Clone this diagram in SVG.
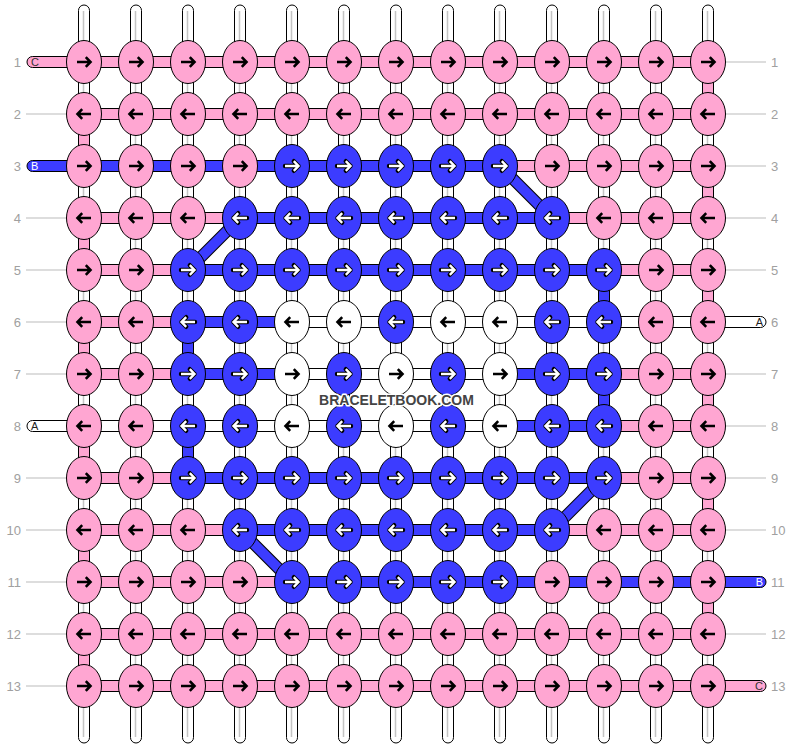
<svg xmlns="http://www.w3.org/2000/svg" width="792" height="748" viewBox="0 0 792 748">
<style>
.P{fill:#ffa6d2}.B{fill:#3c3cff}.W{fill:#fff}
ellipse{stroke:#000;stroke-width:1}
.s{stroke:#000;stroke-width:1}
.gr{stroke:#c4c4c4;stroke-width:1.5}
.ar{fill:none;stroke:#000;stroke-width:2.6}
.aro{fill:none;stroke:#000;stroke-width:4.4;stroke-linecap:round;stroke-linejoin:round}
.arw{fill:none;stroke:#fff;stroke-width:2.4}
.num{font-family:"Liberation Sans",Arial,sans-serif;font-size:13px;fill:#a0a0a0}
.gl{stroke:#bbb;stroke-width:1}
.lbl{font-family:"Liberation Sans",Arial,sans-serif;font-size:11px}
.wm{font-family:"Liberation Sans",Arial,sans-serif;font-size:14px;font-weight:bold;fill:#444;stroke:#fff;stroke-width:3;paint-order:stroke;stroke-linejoin:round}
</style>
<defs>
<path id="pR" d="M-7,0H6.5M1.8,-4.8L6.5,0L1.8,4.8"/>
<path id="pL" d="M7,0H-6.5M-1.8,-4.8L-6.5,0L-1.8,4.8"/>
<g id="R"><use href="#pR" class="ar"/></g>
<g id="L"><use href="#pL" class="ar"/></g>
<g id="RW"><use href="#pR" class="aro"/><use href="#pR" class="arw"/></g>
<g id="LW"><use href="#pL" class="aro"/><use href="#pL" class="arw"/></g>
</defs>
<rect width="792" height="748" fill="#fff"/>
<g id="labels">
<g class="num" text-anchor="end">
<text x="21" y="66.5">1</text><text x="21" y="118.5">2</text><text x="21" y="170.5">3</text><text x="21" y="222.5">4</text><text x="21" y="274.5">5</text><text x="21" y="326.5">6</text><text x="21" y="378.5">7</text><text x="21" y="430.5">8</text><text x="21" y="482.5">9</text><text x="21" y="534.5">10</text><text x="21" y="586.5">11</text><text x="21" y="638.5">12</text><text x="21" y="690.5">13</text>
</g>
<g class="num">
<text x="771" y="66.5">1</text><text x="771" y="118.5">2</text><text x="771" y="170.5">3</text><text x="771" y="222.5">4</text><text x="771" y="274.5">5</text><text x="771" y="326.5">6</text><text x="771" y="378.5">7</text><text x="771" y="430.5">8</text><text x="771" y="482.5">9</text><text x="771" y="534.5">10</text><text x="771" y="586.5">11</text><text x="771" y="638.5">12</text><text x="771" y="690.5">13</text>
</g>
<g class="gl">
<line x1="26" y1="114" x2="70" y2="114"/><line x1="26" y1="218" x2="70" y2="218"/><line x1="26" y1="270" x2="70" y2="270"/><line x1="26" y1="322" x2="70" y2="322"/><line x1="26" y1="374" x2="70" y2="374"/><line x1="26" y1="478" x2="70" y2="478"/><line x1="26" y1="530" x2="70" y2="530"/><line x1="26" y1="582" x2="70" y2="582"/><line x1="26" y1="634" x2="70" y2="634"/><line x1="26" y1="686" x2="70" y2="686"/>
<line x1="722" y1="62" x2="766" y2="62"/><line x1="722" y1="114" x2="766" y2="114"/><line x1="722" y1="166" x2="766" y2="166"/><line x1="722" y1="218" x2="766" y2="218"/><line x1="722" y1="270" x2="766" y2="270"/><line x1="722" y1="374" x2="766" y2="374"/><line x1="722" y1="426" x2="766" y2="426"/><line x1="722" y1="478" x2="766" y2="478"/><line x1="722" y1="530" x2="766" y2="530"/><line x1="722" y1="634" x2="766" y2="634"/>
</g>
</g>
<g id="connectors">
<g id="vertical" class="s">
<rect class="W" x="78.5" y="5" width="11" height="738" rx="5.5"/>
<rect class="W" x="130.5" y="5" width="11" height="738" rx="5.5"/>
<rect class="W" x="182.5" y="5" width="11" height="738" rx="5.5"/>
<rect class="W" x="234.5" y="5" width="11" height="738" rx="5.5"/>
<rect class="W" x="286.5" y="5" width="11" height="738" rx="5.5"/>
<rect class="W" x="338.5" y="5" width="11" height="738" rx="5.5"/>
<rect class="W" x="390.5" y="5" width="11" height="738" rx="5.5"/>
<rect class="W" x="442.5" y="5" width="11" height="738" rx="5.5"/>
<rect class="W" x="494.5" y="5" width="11" height="738" rx="5.5"/>
<rect class="W" x="546.5" y="5" width="11" height="738" rx="5.5"/>
<rect class="W" x="598.5" y="5" width="11" height="738" rx="5.5"/>
<rect class="W" x="650.5" y="5" width="11" height="738" rx="5.5"/>
<rect class="W" x="702.5" y="5" width="11" height="738" rx="5.5"/>
</g>
<g class="gr">
<line x1="83.5" y1="11" x2="83.5" y2="737"/><line x1="135.5" y1="11" x2="135.5" y2="737"/><line x1="187.5" y1="11" x2="187.5" y2="737"/><line x1="239.5" y1="11" x2="239.5" y2="737"/><line x1="291.5" y1="11" x2="291.5" y2="737"/><line x1="343.5" y1="11" x2="343.5" y2="737"/><line x1="395.5" y1="11" x2="395.5" y2="737"/><line x1="447.5" y1="11" x2="447.5" y2="737"/><line x1="499.5" y1="11" x2="499.5" y2="737"/><line x1="551.5" y1="11" x2="551.5" y2="737"/><line x1="603.5" y1="11" x2="603.5" y2="737"/><line x1="655.5" y1="11" x2="655.5" y2="737"/><line x1="707.5" y1="11" x2="707.5" y2="737"/>
</g>
<g id="vertical-colored" class="s">
<rect class="P" x="78.5" y="114" width="11" height="52"/><rect class="P" x="78.5" y="218" width="11" height="52"/><rect class="P" x="78.5" y="322" width="11" height="52"/><rect class="P" x="78.5" y="426" width="11" height="52"/><rect class="P" x="78.5" y="530" width="11" height="52"/><rect class="P" x="78.5" y="634" width="11" height="52"/>
<rect class="P" x="702.5" y="62" width="11" height="52"/><rect class="P" x="702.5" y="166" width="11" height="52"/><rect class="P" x="702.5" y="270" width="11" height="52"/><rect class="P" x="702.5" y="374" width="11" height="52"/><rect class="P" x="702.5" y="478" width="11" height="52"/><rect class="P" x="702.5" y="582" width="11" height="52"/>
<rect class="B" x="182.5" y="322" width="11" height="52"/><rect class="B" x="182.5" y="426" width="11" height="52"/>
<rect class="B" x="598.5" y="270" width="11" height="52"/><rect class="B" x="598.5" y="374" width="11" height="52"/>
</g>
<g id="horizontal" class="s">
<rect class="P" x="27" y="56.5" width="681" height="11" rx="5.5"/>
<rect class="P" x="84" y="108.5" width="624" height="11"/>
<rect class="B" x="27" y="160.5" width="473" height="11" rx="5.5"/><rect class="P" x="500" y="160.5" width="208" height="11"/>
<rect class="P" x="84" y="212.5" width="156" height="11"/><rect class="B" x="240" y="212.5" width="312" height="11"/><rect class="P" x="552" y="212.5" width="156" height="11"/>
<rect class="P" x="84" y="264.5" width="104" height="11"/><rect class="B" x="188" y="264.5" width="416" height="11"/><rect class="P" x="604" y="264.5" width="104" height="11"/>
<rect class="P" x="84" y="316.5" width="104" height="11"/><rect class="B" x="188" y="316.5" width="104" height="11"/><rect class="W" x="292" y="316.5" width="474" height="11" rx="5.5"/>
<rect class="P" x="84" y="368.5" width="104" height="11"/><rect class="B" x="188" y="368.5" width="104" height="11"/><rect class="W" x="292" y="368.5" width="208" height="11"/><rect class="B" x="500" y="368.5" width="104" height="11"/><rect class="P" x="604" y="368.5" width="104" height="11"/>
<rect class="W" x="27" y="420.5" width="473" height="11" rx="5.5"/><rect class="B" x="500" y="420.5" width="104" height="11"/><rect class="P" x="604" y="420.5" width="104" height="11"/>
<rect class="P" x="84" y="472.5" width="104" height="11"/><rect class="B" x="188" y="472.5" width="416" height="11"/><rect class="P" x="604" y="472.5" width="104" height="11"/>
<rect class="P" x="84" y="524.5" width="156" height="11"/><rect class="B" x="240" y="524.5" width="312" height="11"/><rect class="P" x="552" y="524.5" width="156" height="11"/>
<rect class="P" x="84" y="576.5" width="208" height="11"/><rect class="B" x="292" y="576.5" width="474" height="11" rx="5.5"/>
<rect class="P" x="84" y="628.5" width="624" height="11"/>
<rect class="P" x="84" y="680.5" width="682" height="11" rx="5.5"/>
</g>
<g id="diagonals">
<g stroke="#000" stroke-width="12">
<line x1="500" y1="166" x2="552" y2="218"/><line x1="240" y1="218" x2="188" y2="270"/><line x1="604" y1="478" x2="552" y2="530"/><line x1="240" y1="530" x2="292" y2="582"/>
</g>
<g stroke="#3c3cff" stroke-width="10">
<line x1="500" y1="166" x2="552" y2="218"/><line x1="240" y1="218" x2="188" y2="270"/><line x1="604" y1="478" x2="552" y2="530"/><line x1="240" y1="530" x2="292" y2="582"/>
</g>
</g>
<g id="string-labels" class="lbl">
<text x="31" y="66" fill="#333">C</text>
<text x="31" y="170" fill="#fff">B</text>
<text x="31" y="430" fill="#222">A</text>
<text x="763" y="326" fill="#222" text-anchor="end">A</text>
<text x="763" y="586" fill="#fff" text-anchor="end">B</text>
<text x="763" y="690" fill="#333" text-anchor="end">C</text>
</g>
</g>
<g id="nodes">
<g id="k1-1"><ellipse class="P" cx="84" cy="62" rx="17.5" ry="21.5"/><use href="#R" x="84" y="62"/></g>
<g id="k1-2"><ellipse class="P" cx="136" cy="62" rx="17.5" ry="21.5"/><use href="#R" x="136" y="62"/></g>
<g id="k1-3"><ellipse class="P" cx="188" cy="62" rx="17.5" ry="21.5"/><use href="#R" x="188" y="62"/></g>
<g id="k1-4"><ellipse class="P" cx="240" cy="62" rx="17.5" ry="21.5"/><use href="#R" x="240" y="62"/></g>
<g id="k1-5"><ellipse class="P" cx="292" cy="62" rx="17.5" ry="21.5"/><use href="#R" x="292" y="62"/></g>
<g id="k1-6"><ellipse class="P" cx="344" cy="62" rx="17.5" ry="21.5"/><use href="#R" x="344" y="62"/></g>
<g id="k1-7"><ellipse class="P" cx="396" cy="62" rx="17.5" ry="21.5"/><use href="#R" x="396" y="62"/></g>
<g id="k1-8"><ellipse class="P" cx="448" cy="62" rx="17.5" ry="21.5"/><use href="#R" x="448" y="62"/></g>
<g id="k1-9"><ellipse class="P" cx="500" cy="62" rx="17.5" ry="21.5"/><use href="#R" x="500" y="62"/></g>
<g id="k1-10"><ellipse class="P" cx="552" cy="62" rx="17.5" ry="21.5"/><use href="#R" x="552" y="62"/></g>
<g id="k1-11"><ellipse class="P" cx="604" cy="62" rx="17.5" ry="21.5"/><use href="#R" x="604" y="62"/></g>
<g id="k1-12"><ellipse class="P" cx="656" cy="62" rx="17.5" ry="21.5"/><use href="#R" x="656" y="62"/></g>
<g id="k1-13"><ellipse class="P" cx="708" cy="62" rx="17.5" ry="21.5"/><use href="#R" x="708" y="62"/></g>

<g id="k2-1"><ellipse class="P" cx="84" cy="114" rx="17.5" ry="21.5"/><use href="#L" x="84" y="114"/></g>
<g id="k2-2"><ellipse class="P" cx="136" cy="114" rx="17.5" ry="21.5"/><use href="#L" x="136" y="114"/></g>
<g id="k2-3"><ellipse class="P" cx="188" cy="114" rx="17.5" ry="21.5"/><use href="#L" x="188" y="114"/></g>
<g id="k2-4"><ellipse class="P" cx="240" cy="114" rx="17.5" ry="21.5"/><use href="#L" x="240" y="114"/></g>
<g id="k2-5"><ellipse class="P" cx="292" cy="114" rx="17.5" ry="21.5"/><use href="#L" x="292" y="114"/></g>
<g id="k2-6"><ellipse class="P" cx="344" cy="114" rx="17.5" ry="21.5"/><use href="#L" x="344" y="114"/></g>
<g id="k2-7"><ellipse class="P" cx="396" cy="114" rx="17.5" ry="21.5"/><use href="#L" x="396" y="114"/></g>
<g id="k2-8"><ellipse class="P" cx="448" cy="114" rx="17.5" ry="21.5"/><use href="#L" x="448" y="114"/></g>
<g id="k2-9"><ellipse class="P" cx="500" cy="114" rx="17.5" ry="21.5"/><use href="#L" x="500" y="114"/></g>
<g id="k2-10"><ellipse class="P" cx="552" cy="114" rx="17.5" ry="21.5"/><use href="#L" x="552" y="114"/></g>
<g id="k2-11"><ellipse class="P" cx="604" cy="114" rx="17.5" ry="21.5"/><use href="#L" x="604" y="114"/></g>
<g id="k2-12"><ellipse class="P" cx="656" cy="114" rx="17.5" ry="21.5"/><use href="#L" x="656" y="114"/></g>
<g id="k2-13"><ellipse class="P" cx="708" cy="114" rx="17.5" ry="21.5"/><use href="#L" x="708" y="114"/></g>

<g id="k3-1"><ellipse class="P" cx="84" cy="166" rx="17.5" ry="21.5"/><use href="#R" x="84" y="166"/></g>
<g id="k3-2"><ellipse class="P" cx="136" cy="166" rx="17.5" ry="21.5"/><use href="#R" x="136" y="166"/></g>
<g id="k3-3"><ellipse class="P" cx="188" cy="166" rx="17.5" ry="21.5"/><use href="#R" x="188" y="166"/></g>
<g id="k3-4"><ellipse class="P" cx="240" cy="166" rx="17.5" ry="21.5"/><use href="#R" x="240" y="166"/></g>
<g id="k3-5"><ellipse class="B" cx="292" cy="166" rx="17.5" ry="21.5"/><use href="#RW" x="292" y="166"/></g>
<g id="k3-6"><ellipse class="B" cx="344" cy="166" rx="17.5" ry="21.5"/><use href="#RW" x="344" y="166"/></g>
<g id="k3-7"><ellipse class="B" cx="396" cy="166" rx="17.5" ry="21.5"/><use href="#RW" x="396" y="166"/></g>
<g id="k3-8"><ellipse class="B" cx="448" cy="166" rx="17.5" ry="21.5"/><use href="#RW" x="448" y="166"/></g>
<g id="k3-9"><ellipse class="B" cx="500" cy="166" rx="17.5" ry="21.5"/><use href="#RW" x="500" y="166"/></g>
<g id="k3-10"><ellipse class="P" cx="552" cy="166" rx="17.5" ry="21.5"/><use href="#R" x="552" y="166"/></g>
<g id="k3-11"><ellipse class="P" cx="604" cy="166" rx="17.5" ry="21.5"/><use href="#R" x="604" y="166"/></g>
<g id="k3-12"><ellipse class="P" cx="656" cy="166" rx="17.5" ry="21.5"/><use href="#R" x="656" y="166"/></g>
<g id="k3-13"><ellipse class="P" cx="708" cy="166" rx="17.5" ry="21.5"/><use href="#R" x="708" y="166"/></g>

<g id="k4-1"><ellipse class="P" cx="84" cy="218" rx="17.5" ry="21.5"/><use href="#L" x="84" y="218"/></g>
<g id="k4-2"><ellipse class="P" cx="136" cy="218" rx="17.5" ry="21.5"/><use href="#L" x="136" y="218"/></g>
<g id="k4-3"><ellipse class="P" cx="188" cy="218" rx="17.5" ry="21.5"/><use href="#L" x="188" y="218"/></g>
<g id="k4-4"><ellipse class="B" cx="240" cy="218" rx="17.5" ry="21.5"/><use href="#LW" x="240" y="218"/></g>
<g id="k4-5"><ellipse class="B" cx="292" cy="218" rx="17.5" ry="21.5"/><use href="#LW" x="292" y="218"/></g>
<g id="k4-6"><ellipse class="B" cx="344" cy="218" rx="17.5" ry="21.5"/><use href="#LW" x="344" y="218"/></g>
<g id="k4-7"><ellipse class="B" cx="396" cy="218" rx="17.5" ry="21.5"/><use href="#LW" x="396" y="218"/></g>
<g id="k4-8"><ellipse class="B" cx="448" cy="218" rx="17.5" ry="21.5"/><use href="#LW" x="448" y="218"/></g>
<g id="k4-9"><ellipse class="B" cx="500" cy="218" rx="17.5" ry="21.5"/><use href="#LW" x="500" y="218"/></g>
<g id="k4-10"><ellipse class="B" cx="552" cy="218" rx="17.5" ry="21.5"/><use href="#LW" x="552" y="218"/></g>
<g id="k4-11"><ellipse class="P" cx="604" cy="218" rx="17.5" ry="21.5"/><use href="#L" x="604" y="218"/></g>
<g id="k4-12"><ellipse class="P" cx="656" cy="218" rx="17.5" ry="21.5"/><use href="#L" x="656" y="218"/></g>
<g id="k4-13"><ellipse class="P" cx="708" cy="218" rx="17.5" ry="21.5"/><use href="#L" x="708" y="218"/></g>

<g id="k5-1"><ellipse class="P" cx="84" cy="270" rx="17.5" ry="21.5"/><use href="#R" x="84" y="270"/></g>
<g id="k5-2"><ellipse class="P" cx="136" cy="270" rx="17.5" ry="21.5"/><use href="#R" x="136" y="270"/></g>
<g id="k5-3"><ellipse class="B" cx="188" cy="270" rx="17.5" ry="21.5"/><use href="#RW" x="188" y="270"/></g>
<g id="k5-4"><ellipse class="B" cx="240" cy="270" rx="17.5" ry="21.5"/><use href="#RW" x="240" y="270"/></g>
<g id="k5-5"><ellipse class="B" cx="292" cy="270" rx="17.5" ry="21.5"/><use href="#RW" x="292" y="270"/></g>
<g id="k5-6"><ellipse class="B" cx="344" cy="270" rx="17.5" ry="21.5"/><use href="#RW" x="344" y="270"/></g>
<g id="k5-7"><ellipse class="B" cx="396" cy="270" rx="17.5" ry="21.5"/><use href="#RW" x="396" y="270"/></g>
<g id="k5-8"><ellipse class="B" cx="448" cy="270" rx="17.5" ry="21.5"/><use href="#RW" x="448" y="270"/></g>
<g id="k5-9"><ellipse class="B" cx="500" cy="270" rx="17.5" ry="21.5"/><use href="#RW" x="500" y="270"/></g>
<g id="k5-10"><ellipse class="B" cx="552" cy="270" rx="17.5" ry="21.5"/><use href="#RW" x="552" y="270"/></g>
<g id="k5-11"><ellipse class="B" cx="604" cy="270" rx="17.5" ry="21.5"/><use href="#RW" x="604" y="270"/></g>
<g id="k5-12"><ellipse class="P" cx="656" cy="270" rx="17.5" ry="21.5"/><use href="#R" x="656" y="270"/></g>
<g id="k5-13"><ellipse class="P" cx="708" cy="270" rx="17.5" ry="21.5"/><use href="#R" x="708" y="270"/></g>

<g id="k6-1"><ellipse class="P" cx="84" cy="322" rx="17.5" ry="21.5"/><use href="#L" x="84" y="322"/></g>
<g id="k6-2"><ellipse class="P" cx="136" cy="322" rx="17.5" ry="21.5"/><use href="#L" x="136" y="322"/></g>
<g id="k6-3"><ellipse class="B" cx="188" cy="322" rx="17.5" ry="21.5"/><use href="#LW" x="188" y="322"/></g>
<g id="k6-4"><ellipse class="B" cx="240" cy="322" rx="17.5" ry="21.5"/><use href="#LW" x="240" y="322"/></g>
<g id="k6-5"><ellipse class="W" cx="292" cy="322" rx="17.5" ry="21.5"/><use href="#L" x="292" y="322"/></g>
<g id="k6-6"><ellipse class="W" cx="344" cy="322" rx="17.5" ry="21.5"/><use href="#L" x="344" y="322"/></g>
<g id="k6-7"><ellipse class="B" cx="396" cy="322" rx="17.5" ry="21.5"/><use href="#LW" x="396" y="322"/></g>
<g id="k6-8"><ellipse class="W" cx="448" cy="322" rx="17.5" ry="21.5"/><use href="#L" x="448" y="322"/></g>
<g id="k6-9"><ellipse class="W" cx="500" cy="322" rx="17.5" ry="21.5"/><use href="#L" x="500" y="322"/></g>
<g id="k6-10"><ellipse class="B" cx="552" cy="322" rx="17.5" ry="21.5"/><use href="#LW" x="552" y="322"/></g>
<g id="k6-11"><ellipse class="B" cx="604" cy="322" rx="17.5" ry="21.5"/><use href="#LW" x="604" y="322"/></g>
<g id="k6-12"><ellipse class="P" cx="656" cy="322" rx="17.5" ry="21.5"/><use href="#L" x="656" y="322"/></g>
<g id="k6-13"><ellipse class="P" cx="708" cy="322" rx="17.5" ry="21.5"/><use href="#L" x="708" y="322"/></g>

<g id="k7-1"><ellipse class="P" cx="84" cy="374" rx="17.5" ry="21.5"/><use href="#R" x="84" y="374"/></g>
<g id="k7-2"><ellipse class="P" cx="136" cy="374" rx="17.5" ry="21.5"/><use href="#R" x="136" y="374"/></g>
<g id="k7-3"><ellipse class="B" cx="188" cy="374" rx="17.5" ry="21.5"/><use href="#RW" x="188" y="374"/></g>
<g id="k7-4"><ellipse class="B" cx="240" cy="374" rx="17.5" ry="21.5"/><use href="#RW" x="240" y="374"/></g>
<g id="k7-5"><ellipse class="W" cx="292" cy="374" rx="17.5" ry="21.5"/><use href="#R" x="292" y="374"/></g>
<g id="k7-6"><ellipse class="B" cx="344" cy="374" rx="17.5" ry="21.5"/><use href="#RW" x="344" y="374"/></g>
<g id="k7-7"><ellipse class="W" cx="396" cy="374" rx="17.5" ry="21.5"/><use href="#R" x="396" y="374"/></g>
<g id="k7-8"><ellipse class="B" cx="448" cy="374" rx="17.5" ry="21.5"/><use href="#RW" x="448" y="374"/></g>
<g id="k7-9"><ellipse class="W" cx="500" cy="374" rx="17.5" ry="21.5"/><use href="#R" x="500" y="374"/></g>
<g id="k7-10"><ellipse class="B" cx="552" cy="374" rx="17.5" ry="21.5"/><use href="#RW" x="552" y="374"/></g>
<g id="k7-11"><ellipse class="B" cx="604" cy="374" rx="17.5" ry="21.5"/><use href="#RW" x="604" y="374"/></g>
<g id="k7-12"><ellipse class="P" cx="656" cy="374" rx="17.5" ry="21.5"/><use href="#R" x="656" y="374"/></g>
<g id="k7-13"><ellipse class="P" cx="708" cy="374" rx="17.5" ry="21.5"/><use href="#R" x="708" y="374"/></g>

<g id="k8-1"><ellipse class="P" cx="84" cy="426" rx="17.5" ry="21.5"/><use href="#L" x="84" y="426"/></g>
<g id="k8-2"><ellipse class="P" cx="136" cy="426" rx="17.5" ry="21.5"/><use href="#L" x="136" y="426"/></g>
<g id="k8-3"><ellipse class="B" cx="188" cy="426" rx="17.5" ry="21.5"/><use href="#LW" x="188" y="426"/></g>
<g id="k8-4"><ellipse class="B" cx="240" cy="426" rx="17.5" ry="21.5"/><use href="#LW" x="240" y="426"/></g>
<g id="k8-5"><ellipse class="W" cx="292" cy="426" rx="17.5" ry="21.5"/><use href="#L" x="292" y="426"/></g>
<g id="k8-6"><ellipse class="B" cx="344" cy="426" rx="17.5" ry="21.5"/><use href="#LW" x="344" y="426"/></g>
<g id="k8-7"><ellipse class="W" cx="396" cy="426" rx="17.5" ry="21.5"/><use href="#L" x="396" y="426"/></g>
<g id="k8-8"><ellipse class="B" cx="448" cy="426" rx="17.5" ry="21.5"/><use href="#LW" x="448" y="426"/></g>
<g id="k8-9"><ellipse class="W" cx="500" cy="426" rx="17.5" ry="21.5"/><use href="#L" x="500" y="426"/></g>
<g id="k8-10"><ellipse class="B" cx="552" cy="426" rx="17.5" ry="21.5"/><use href="#LW" x="552" y="426"/></g>
<g id="k8-11"><ellipse class="B" cx="604" cy="426" rx="17.5" ry="21.5"/><use href="#LW" x="604" y="426"/></g>
<g id="k8-12"><ellipse class="P" cx="656" cy="426" rx="17.5" ry="21.5"/><use href="#L" x="656" y="426"/></g>
<g id="k8-13"><ellipse class="P" cx="708" cy="426" rx="17.5" ry="21.5"/><use href="#L" x="708" y="426"/></g>

<g id="k9-1"><ellipse class="P" cx="84" cy="478" rx="17.5" ry="21.5"/><use href="#R" x="84" y="478"/></g>
<g id="k9-2"><ellipse class="P" cx="136" cy="478" rx="17.5" ry="21.5"/><use href="#R" x="136" y="478"/></g>
<g id="k9-3"><ellipse class="B" cx="188" cy="478" rx="17.5" ry="21.5"/><use href="#RW" x="188" y="478"/></g>
<g id="k9-4"><ellipse class="B" cx="240" cy="478" rx="17.5" ry="21.5"/><use href="#RW" x="240" y="478"/></g>
<g id="k9-5"><ellipse class="B" cx="292" cy="478" rx="17.5" ry="21.5"/><use href="#RW" x="292" y="478"/></g>
<g id="k9-6"><ellipse class="B" cx="344" cy="478" rx="17.5" ry="21.5"/><use href="#RW" x="344" y="478"/></g>
<g id="k9-7"><ellipse class="B" cx="396" cy="478" rx="17.5" ry="21.5"/><use href="#RW" x="396" y="478"/></g>
<g id="k9-8"><ellipse class="B" cx="448" cy="478" rx="17.5" ry="21.5"/><use href="#RW" x="448" y="478"/></g>
<g id="k9-9"><ellipse class="B" cx="500" cy="478" rx="17.5" ry="21.5"/><use href="#RW" x="500" y="478"/></g>
<g id="k9-10"><ellipse class="B" cx="552" cy="478" rx="17.5" ry="21.5"/><use href="#RW" x="552" y="478"/></g>
<g id="k9-11"><ellipse class="B" cx="604" cy="478" rx="17.5" ry="21.5"/><use href="#RW" x="604" y="478"/></g>
<g id="k9-12"><ellipse class="P" cx="656" cy="478" rx="17.5" ry="21.5"/><use href="#R" x="656" y="478"/></g>
<g id="k9-13"><ellipse class="P" cx="708" cy="478" rx="17.5" ry="21.5"/><use href="#R" x="708" y="478"/></g>

<g id="k10-1"><ellipse class="P" cx="84" cy="530" rx="17.5" ry="21.5"/><use href="#L" x="84" y="530"/></g>
<g id="k10-2"><ellipse class="P" cx="136" cy="530" rx="17.5" ry="21.5"/><use href="#L" x="136" y="530"/></g>
<g id="k10-3"><ellipse class="P" cx="188" cy="530" rx="17.5" ry="21.5"/><use href="#L" x="188" y="530"/></g>
<g id="k10-4"><ellipse class="B" cx="240" cy="530" rx="17.5" ry="21.5"/><use href="#LW" x="240" y="530"/></g>
<g id="k10-5"><ellipse class="B" cx="292" cy="530" rx="17.5" ry="21.5"/><use href="#LW" x="292" y="530"/></g>
<g id="k10-6"><ellipse class="B" cx="344" cy="530" rx="17.5" ry="21.5"/><use href="#LW" x="344" y="530"/></g>
<g id="k10-7"><ellipse class="B" cx="396" cy="530" rx="17.5" ry="21.5"/><use href="#LW" x="396" y="530"/></g>
<g id="k10-8"><ellipse class="B" cx="448" cy="530" rx="17.5" ry="21.5"/><use href="#LW" x="448" y="530"/></g>
<g id="k10-9"><ellipse class="B" cx="500" cy="530" rx="17.5" ry="21.5"/><use href="#LW" x="500" y="530"/></g>
<g id="k10-10"><ellipse class="B" cx="552" cy="530" rx="17.5" ry="21.5"/><use href="#LW" x="552" y="530"/></g>
<g id="k10-11"><ellipse class="P" cx="604" cy="530" rx="17.5" ry="21.5"/><use href="#L" x="604" y="530"/></g>
<g id="k10-12"><ellipse class="P" cx="656" cy="530" rx="17.5" ry="21.5"/><use href="#L" x="656" y="530"/></g>
<g id="k10-13"><ellipse class="P" cx="708" cy="530" rx="17.5" ry="21.5"/><use href="#L" x="708" y="530"/></g>

<g id="k11-1"><ellipse class="P" cx="84" cy="582" rx="17.5" ry="21.5"/><use href="#R" x="84" y="582"/></g>
<g id="k11-2"><ellipse class="P" cx="136" cy="582" rx="17.5" ry="21.5"/><use href="#R" x="136" y="582"/></g>
<g id="k11-3"><ellipse class="P" cx="188" cy="582" rx="17.5" ry="21.5"/><use href="#R" x="188" y="582"/></g>
<g id="k11-4"><ellipse class="P" cx="240" cy="582" rx="17.5" ry="21.5"/><use href="#R" x="240" y="582"/></g>
<g id="k11-5"><ellipse class="B" cx="292" cy="582" rx="17.5" ry="21.5"/><use href="#RW" x="292" y="582"/></g>
<g id="k11-6"><ellipse class="B" cx="344" cy="582" rx="17.5" ry="21.5"/><use href="#RW" x="344" y="582"/></g>
<g id="k11-7"><ellipse class="B" cx="396" cy="582" rx="17.5" ry="21.5"/><use href="#RW" x="396" y="582"/></g>
<g id="k11-8"><ellipse class="B" cx="448" cy="582" rx="17.5" ry="21.5"/><use href="#RW" x="448" y="582"/></g>
<g id="k11-9"><ellipse class="B" cx="500" cy="582" rx="17.5" ry="21.5"/><use href="#RW" x="500" y="582"/></g>
<g id="k11-10"><ellipse class="P" cx="552" cy="582" rx="17.5" ry="21.5"/><use href="#R" x="552" y="582"/></g>
<g id="k11-11"><ellipse class="P" cx="604" cy="582" rx="17.5" ry="21.5"/><use href="#R" x="604" y="582"/></g>
<g id="k11-12"><ellipse class="P" cx="656" cy="582" rx="17.5" ry="21.5"/><use href="#R" x="656" y="582"/></g>
<g id="k11-13"><ellipse class="P" cx="708" cy="582" rx="17.5" ry="21.5"/><use href="#R" x="708" y="582"/></g>

<g id="k12-1"><ellipse class="P" cx="84" cy="634" rx="17.5" ry="21.5"/><use href="#L" x="84" y="634"/></g>
<g id="k12-2"><ellipse class="P" cx="136" cy="634" rx="17.5" ry="21.5"/><use href="#L" x="136" y="634"/></g>
<g id="k12-3"><ellipse class="P" cx="188" cy="634" rx="17.5" ry="21.5"/><use href="#L" x="188" y="634"/></g>
<g id="k12-4"><ellipse class="P" cx="240" cy="634" rx="17.5" ry="21.5"/><use href="#L" x="240" y="634"/></g>
<g id="k12-5"><ellipse class="P" cx="292" cy="634" rx="17.5" ry="21.5"/><use href="#L" x="292" y="634"/></g>
<g id="k12-6"><ellipse class="P" cx="344" cy="634" rx="17.5" ry="21.5"/><use href="#L" x="344" y="634"/></g>
<g id="k12-7"><ellipse class="P" cx="396" cy="634" rx="17.5" ry="21.5"/><use href="#L" x="396" y="634"/></g>
<g id="k12-8"><ellipse class="P" cx="448" cy="634" rx="17.5" ry="21.5"/><use href="#L" x="448" y="634"/></g>
<g id="k12-9"><ellipse class="P" cx="500" cy="634" rx="17.5" ry="21.5"/><use href="#L" x="500" y="634"/></g>
<g id="k12-10"><ellipse class="P" cx="552" cy="634" rx="17.5" ry="21.5"/><use href="#L" x="552" y="634"/></g>
<g id="k12-11"><ellipse class="P" cx="604" cy="634" rx="17.5" ry="21.5"/><use href="#L" x="604" y="634"/></g>
<g id="k12-12"><ellipse class="P" cx="656" cy="634" rx="17.5" ry="21.5"/><use href="#L" x="656" y="634"/></g>
<g id="k12-13"><ellipse class="P" cx="708" cy="634" rx="17.5" ry="21.5"/><use href="#L" x="708" y="634"/></g>

<g id="k13-1"><ellipse class="P" cx="84" cy="686" rx="17.5" ry="21.5"/><use href="#R" x="84" y="686"/></g>
<g id="k13-2"><ellipse class="P" cx="136" cy="686" rx="17.5" ry="21.5"/><use href="#R" x="136" y="686"/></g>
<g id="k13-3"><ellipse class="P" cx="188" cy="686" rx="17.5" ry="21.5"/><use href="#R" x="188" y="686"/></g>
<g id="k13-4"><ellipse class="P" cx="240" cy="686" rx="17.5" ry="21.5"/><use href="#R" x="240" y="686"/></g>
<g id="k13-5"><ellipse class="P" cx="292" cy="686" rx="17.5" ry="21.5"/><use href="#R" x="292" y="686"/></g>
<g id="k13-6"><ellipse class="P" cx="344" cy="686" rx="17.5" ry="21.5"/><use href="#R" x="344" y="686"/></g>
<g id="k13-7"><ellipse class="P" cx="396" cy="686" rx="17.5" ry="21.5"/><use href="#R" x="396" y="686"/></g>
<g id="k13-8"><ellipse class="P" cx="448" cy="686" rx="17.5" ry="21.5"/><use href="#R" x="448" y="686"/></g>
<g id="k13-9"><ellipse class="P" cx="500" cy="686" rx="17.5" ry="21.5"/><use href="#R" x="500" y="686"/></g>
<g id="k13-10"><ellipse class="P" cx="552" cy="686" rx="17.5" ry="21.5"/><use href="#R" x="552" y="686"/></g>
<g id="k13-11"><ellipse class="P" cx="604" cy="686" rx="17.5" ry="21.5"/><use href="#R" x="604" y="686"/></g>
<g id="k13-12"><ellipse class="P" cx="656" cy="686" rx="17.5" ry="21.5"/><use href="#R" x="656" y="686"/></g>
<g id="k13-13"><ellipse class="P" cx="708" cy="686" rx="17.5" ry="21.5"/><use href="#R" x="708" y="686"/></g>
</g>
<text class="wm" x="396.5" y="405" text-anchor="middle">BRACELETBOOK.COM</text>
</svg>
